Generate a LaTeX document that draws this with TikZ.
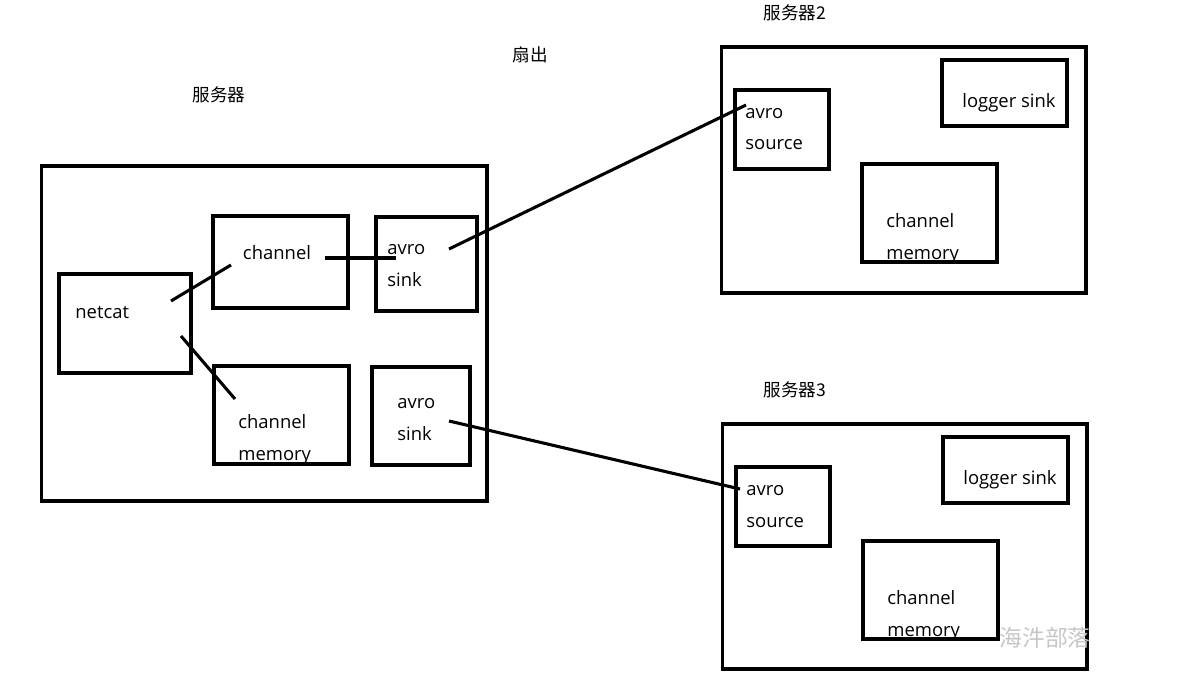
\documentclass[tikz,border=0pt]{standalone}
\usepackage{fontspec}
\setmainfont{Open Sans}
\newfontfamily\cjk{Noto Sans CJK SC}
\usetikzlibrary{positioning}

\tikzset{
  box/.style={draw, line width=1.75pt, inner sep=0pt},
  wire/.style={line width=1.75pt},
  txt/.style={inner sep=0pt, font=\fontsize{10.5}{18}\selectfont, align=left},
  title/.style={inner sep=0pt, font=\cjk\fontsize{10}{12}\selectfont}
}

\begin{document}
\begin{tikzpicture}[x=0.02cm, y=-0.02cm]
  \useasboundingbox (0,0) rectangle (1192,686);
  % Titres
  \node[title] (t1) at (219,95) {服务器};
  \node[title] (tfan) at (530,55) {扇出};
  \node[title] (t2) at (795,13) {服务器2};
  \node[title] (t3) at (795,390) {服务器3};
  % Serveur 1
  \node[box, minimum width=8.92cm, minimum height=6.7cm] (srv1) at (264,333.5) {};
  \node[box, minimum width=2.64cm, minimum height=1.98cm] (netcat) at (125,323.5) {};
  \node[txt, anchor=west] (netcatT) at (75,313) {netcat};
  \node[box, minimum width=2.7cm, minimum height=1.84cm] (chan) at (280.5,262) {};
  \node[txt] (chanT) at (277,253) {channel};
  \node[box, minimum width=2.02cm, minimum height=1.88cm] (sinkA) at (426.5,264) {};
  \node[txt, anchor=west] (sinkAT) at (387,265.5) {avro\\sink};
  \node[box, minimum width=2.7cm, minimum height=1.96cm] (chmem) at (281.5,415) {};
  \node[txt, anchor=west] (chmemT) at (238,440) {channel\\memory};
  \node[box, minimum width=1.96cm, minimum height=1.96cm] (sinkB) at (421,416) {};
  \node[txt, anchor=west] (sinkBT) at (397,419.5) {avro\\sink};
  % Serveur 2
  \node[box, minimum width=7.3cm, minimum height=4.92cm] (srv2) at (903.5,170) {};
  \node[box, minimum width=1.88cm, minimum height=1.58cm] (srcA) at (782,129.5) {};
  \node[txt, anchor=west] (srcAT) at (745,129) {avro\\source};
  \node[box, minimum width=2.5cm, minimum height=1.32cm] (logA) at (1004.5,93) {};
  \node[txt] (logAT) at (1009,103) {logger sink};
  \node[box, minimum width=2.7cm, minimum height=1.96cm] (memA) at (929.5,213) {};
  \node[txt, anchor=west] (memAT) at (886,238.5) {channel\\memory};
  % Serveur 3
  \node[box, minimum width=7.3cm, minimum height=4.9cm] (srv3) at (904.5,546.5) {};
  \node[box, minimum width=1.88cm, minimum height=1.58cm] (srcB) at (783,506.5) {};
  \node[txt, anchor=west] (srcBT) at (746,506.5) {avro\\source};
  \node[box, minimum width=2.5cm, minimum height=1.32cm] (logB) at (1005.5,470) {};
  \node[txt] (logBT) at (1010,480) {logger sink};
  \node[box, minimum width=2.7cm, minimum height=1.96cm] (memB) at (930.5,590) {};
  \node[txt, anchor=west] (memBT) at (887,615.5) {channel\\memory};
  % Liaisons
  \coordinate (nc1) at (171,301);
  \coordinate (ch1) at (231,265);
  \coordinate (nc2) at (181,336);
  \coordinate (cm1) at (235,399);
  \coordinate (ch2) at (325,258);
  \coordinate (sa1) at (396,258);
  \coordinate (sa2) at (449,249);
  \coordinate (ra1) at (746,105);
  \coordinate (sb1) at (449,421);
  \coordinate (rb1) at (740,489);
  \draw[wire] (nc1) -- (ch1);
  \draw[wire] (nc2) -- (cm1);
  \draw[wire] (ch2) -- (sa1);
  \draw[wire] (sa2) -- (ra1);
  \draw[wire] (sb1) -- (rb1);
  % Filigrane
  \node[title, font=\cjk\fontsize{13}{15}\selectfont, text=gray!45] (wm) at (1045,638) {海汼部落};
\end{tikzpicture}
\end{document}
